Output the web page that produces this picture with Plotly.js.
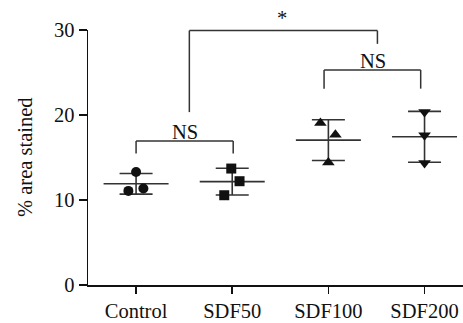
<!DOCTYPE html>
<html>
<head>
<meta charset="utf-8">
<script src="https://cdn.plot.ly/plotly-3.0.1.min.js"></script>
<style>html,body{margin:0;padding:0;background:#fff;}#chart{width:463px;height:323px;}</style>
</head>
<body>
<div id="chart"></div>
<script>
// Data
const categories = ['Control', 'SDF50', 'SDF100', 'SDF200'];
const controlValues = [13.3, 11.07, 11.35];
const sdf50Values = [13.7, 12.21, 10.56];
const sdf100Values = [19.05, 17.69, 14.4];
const sdf200Values = [20.34, 17.61, 14.36];
const controlJitter = [0.0, -0.08, 0.076];
const sdf50Jitter = [-0.01, 0.076, -0.083];
const sdf100Jitter = [-0.083, 0.073, 0.0];
const sdf200Jitter = [0, 0, 0];
const markerSymbols = ['circle', 'square', 'triangle-up', 'triangle-down'];
const yTicks = [0, 10, 20, 30];
const yTitle = '% area stained';

const groups = [controlValues, sdf50Values, sdf100Values, sdf200Values];
const jitters = [controlJitter, sdf50Jitter, sdf100Jitter, sdf200Jitter];

const FONT = 'Liberation Serif, Times New Roman, serif';
const FS = 20.5;
const INK = '#111';
const LINE = '#333';
const YMAX = 30;

function mean(a){return a.reduce((s,v)=>s+v,0)/a.length;}
function sd(a){const m=mean(a);return Math.sqrt(a.reduce((s,v)=>s+(v-m)*(v-m),0)/(a.length-1));}

const traces = [];
groups.forEach((vals, i) => {
  const m = mean(vals), s = sd(vals);
  traces.push({x:[i-0.338, i+0.338], y:[m, m], mode:'lines', line:{color:LINE, width:1.6}, hoverinfo:'skip', showlegend:false});
  traces.push({x:[i], y:[m], mode:'markers', marker:{size:0.1, color:'rgba(0,0,0,0)'},
    error_y:{type:'data', array:[s], visible:true, color:LINE, thickness:1.6, width:16.5}, showlegend:false, hoverinfo:'skip'});
  traces.push({x:vals.map((v,k)=>i+jitters[i][k]), y:vals, mode:'markers',
    marker:{symbol:markerSymbols[i], size: (i>=2 ? 11 : 10), color:INK, line:{width:0}}, showlegend:false, cliponaxis:false});
});

const py = v => v / YMAX;
const shp = (x0,y0,x1,y1) => ({type:'line', xref:'x', yref:'paper', x0:x0, x1:x1, y0:py(y0), y1:py(y1), line:{color:LINE, width:1.5}});

const shapes = [
  shp(0, 15.46, 0, 16.94), shp(0, 16.94, 1.01, 16.94), shp(1.01, 16.94, 1.01, 15.46),
  shp(1.955, 23.1, 1.955, 25.3), shp(1.955, 25.3, 2.96, 25.3), shp(2.96, 25.3, 2.96, 23.1),
  shp(0.554, 20.34, 0.554, 29.93), shp(0.554, 29.93, 2.51, 29.93), shp(2.51, 29.93, 2.51, 28.37)
];

const annotations = [
  {x:0.51, y:py(17.0), xref:'x', yref:'paper', text:'NS', showarrow:false, yanchor:'bottom', font:{family:FONT, size:FS, color:INK}, yshift:-4},
  {x:2.46, y:py(25.35), xref:'x', yref:'paper', text:'NS', showarrow:false, yanchor:'bottom', font:{family:FONT, size:FS, color:INK}, yshift:-4},
  {x:1.515, y:py(30.3), xref:'x', yref:'paper', text:'*', showarrow:false, yanchor:'bottom', font:{family:FONT, size:FS, color:INK}, yshift:-4},
  {x:-0.168, y:0.502, xref:'paper', yref:'paper', text:yTitle, textangle:-90, showarrow:false, xanchor:'center', yanchor:'middle', font:{family:FONT, size:FS, color:INK}}
];

const layout = {
  width:463, height:323,
  margin:{l:88, r:0, t:29.5, b:38},
  paper_bgcolor:'#fff', plot_bgcolor:'#fff',
  font:{family:FONT, size:FS, color:INK},
  xaxis:{range:[-0.5, 3.4], tickvals:categories.map((c,i)=>i), ticktext:categories,
    showgrid:false, zeroline:false, showline:true, linecolor:INK, linewidth:1.5,
    ticks:'outside', ticklen:7, tickwidth:1.5, tickcolor:INK, fixedrange:true,
    tickfont:{family:FONT, size:FS, color:INK}},
  yaxis:{range:[0, YMAX], tickvals:yTicks, showgrid:false, zeroline:false, showline:true,
    linecolor:INK, linewidth:1.5, ticks:'outside', ticklen:8, tickwidth:1.5, tickcolor:INK,
    tickfont:{family:FONT, size:FS, color:INK}},
  shapes:shapes, annotations:annotations
};

Plotly.newPlot('chart', traces, layout, {staticPlot:true, displayModeBar:false});
</script>
</body>
</html>
